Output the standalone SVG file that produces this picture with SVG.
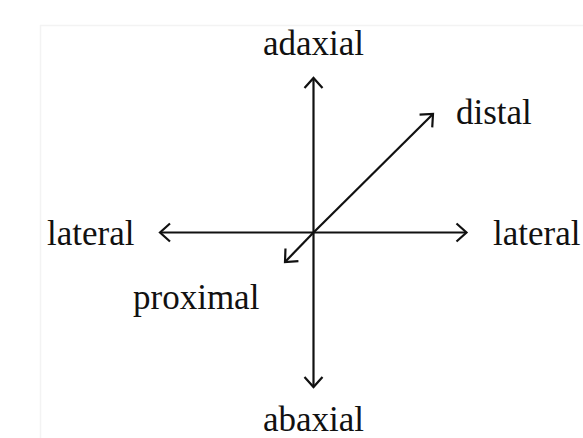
<svg xmlns="http://www.w3.org/2000/svg" width="583" height="438" viewBox="0 0 583 438">
<style>
.lbl{font-family:"Liberation Serif","Times New Roman",serif;font-size:35px;fill:#111111}
.ax{stroke:#111111;stroke-width:2.2;fill:none}
</style>
<defs>
<marker id="arr" markerUnits="userSpaceOnUse" markerWidth="24" markerHeight="24" refX="0" refY="0" viewBox="-12 -12 24 24" orient="auto-start-reverse">
<path d="M-10,-9 L0,0 L-10,9" fill="none" stroke="#111111" stroke-width="2.2"/>
</marker>
</defs>
<rect width="583" height="438" fill="#ffffff"/>
<path d="M40.5,438 L40.5,25.5 L583,25.5" fill="none" stroke="#f3f3f3" stroke-width="1.5"/>
<g id="connectors">
<line class="ax" x1="313.5" y1="387" x2="313.5" y2="78" marker-start="url(#arr)" marker-end="url(#arr)"/>
<line class="ax" x1="160" y1="232.5" x2="466.5" y2="232.5" marker-start="url(#arr)" marker-end="url(#arr)"/>
<line class="ax" x1="313.5" y1="232.5" x2="433" y2="114" marker-end="url(#arr)"/>
<line class="ax" x1="313.5" y1="232.5" x2="285" y2="262" marker-end="url(#arr)"/>
</g>
<g id="adaxial"><text class="lbl" x="313.5" y="55" text-anchor="middle">adaxial</text></g>
<g id="abaxial"><text class="lbl" x="313.5" y="431" text-anchor="middle">abaxial</text></g>
<g id="distal"><text class="lbl" x="456" y="124">distal</text></g>
<g id="lateral-left"><text class="lbl" x="47" y="245">lateral</text></g>
<g id="lateral-right"><text class="lbl" x="493" y="245">lateral</text></g>
<g id="proximal"><text class="lbl" x="133" y="309">proximal</text></g>
</svg>
